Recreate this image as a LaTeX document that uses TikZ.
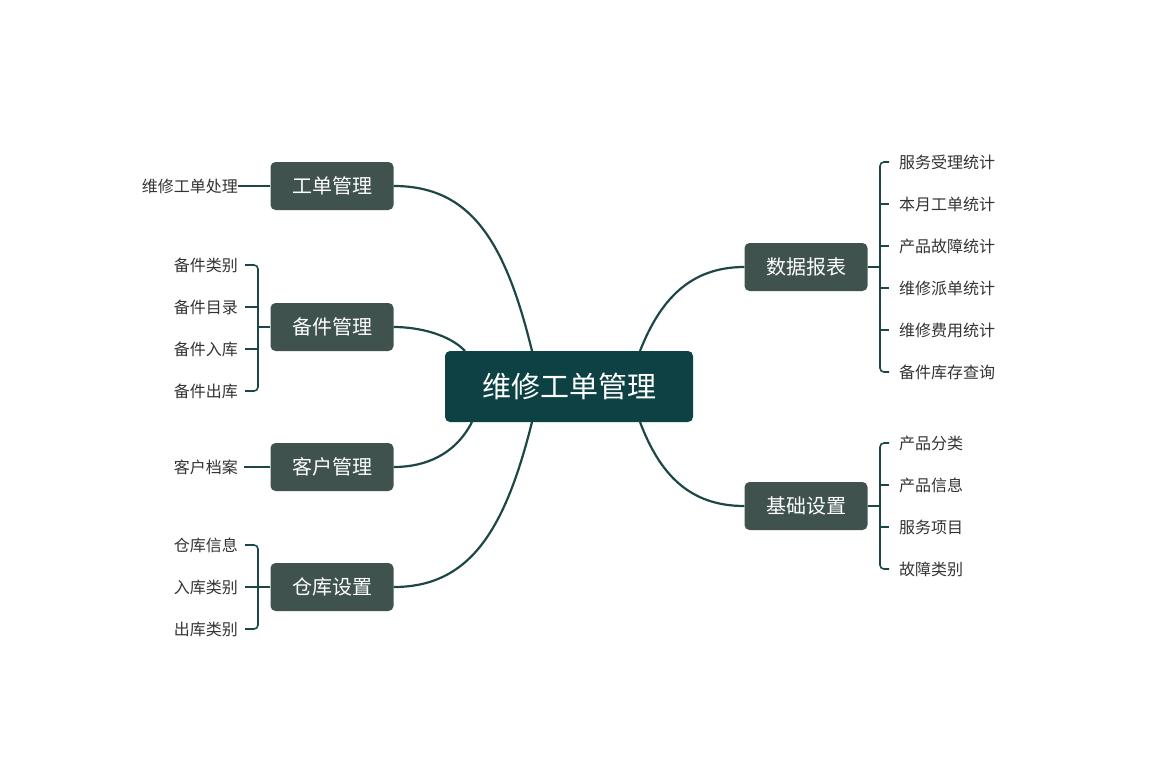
\documentclass[tikz,border=0pt]{standalone}
\usepackage{fontspec}
\newfontfamily\cjk{Noto Sans CJK SC}
\definecolor{central}{HTML}{0E4143}
\definecolor{branch}{HTML}{3F524E}
\definecolor{linec}{HTML}{1D4746}
\definecolor{leaftxt}{HTML}{333333}
\begin{document}
\begin{tikzpicture}[x=1pt,y=-1pt,
  cbox/.style={fill=central,rounded corners=5pt,minimum width=248pt,minimum height=71pt,text=white,font=\cjk\fontsize{29}{34}\selectfont,inner sep=0pt},
  bbox/.style={fill=branch,rounded corners=5pt,minimum width=123pt,minimum height=48pt,text=white,font=\cjk\fontsize{20}{24}\selectfont,inner sep=0pt},
  lleaf/.style={anchor=east,text=leaftxt,font=\cjk\fontsize{16}{20}\selectfont,inner sep=0pt},
  rleaf/.style={anchor=west,text=leaftxt,font=\cjk\fontsize{16}{20}\selectfont,inner sep=0pt},
  conn/.style={draw=linec,line width=2.2pt},
  brk/.style={draw=linec,line width=1.6pt,rounded corners=4pt}]
\useasboundingbox (0,0) rectangle (1162,761);
\node[cbox] (c) at (569,386.5) {维修工单管理};
\node[bbox] (b1) at (332,186) {工单管理};
\node[bbox] (b2) at (332,327) {备件管理};
\node[bbox] (b3) at (332,467) {客户管理};
\node[bbox] (b4) at (332,587) {仓库设置};
\node[bbox] (b5) at (806,267) {数据报表};
\node[bbox] (b6) at (806,506) {基础设置};
% connectors
\draw[conn] (532,351) .. controls (505,240) and (470,186) .. (b1.east);
\draw[conn] (465,351) .. controls (450,335) and (420,327) .. (b2.east);
\draw[conn] (472,422) .. controls (455,455) and (425,467) .. (b3.east);
\draw[conn] (532,422) .. controls (505,530) and (470,587) .. (b4.east);
\draw[conn] (640,351) .. controls (660,300) and (690,267) .. (b5.west);
\draw[conn] (640,422) .. controls (660,475) and (690,506) .. (b6.west);
% left leaves
\node[lleaf] (l1) at (238,186) {维修工单处理};
\draw[brk] (b1.west) -- (l1.east) ++(6,0);
\draw[conn,line width=1.6pt] (b1.west) -- (244,186);
\node[lleaf] (l2a) at (238,265) {备件类别};
\node[lleaf] (l2b) at (238,307) {备件目录};
\node[lleaf] (l2c) at (238,349) {备件入库};
\node[lleaf] (l2d) at (238,391) {备件出库};
\draw[brk] (b2.west) -- (258,327);
\draw[brk] (245,265) -- (258,265) -- (258,391) -- (245,391);
\draw[brk] (245,307) -- (258,307); \draw[brk] (245,349) -- (258,349);
\node[lleaf] (l3) at (238,467) {客户档案};
\draw[brk] (b3.west) -- (244,467);
\node[lleaf] (l4a) at (238,545) {仓库信息};
\node[lleaf] (l4b) at (238,587) {入库类别};
\node[lleaf] (l4c) at (238,629) {出库类别};
\draw[brk] (b4.west) -- (245,587);
\draw[brk] (245,545) -- (258,545) -- (258,629) -- (245,629);
% right leaves
\node[rleaf] (r1) at (899,162) {服务受理统计};
\node[rleaf] (r2) at (899,204) {本月工单统计};
\node[rleaf] (r3) at (899,246) {产品故障统计};
\node[rleaf] (r4) at (899,288) {维修派单统计};
\node[rleaf] (r5) at (899,330) {维修费用统计};
\node[rleaf] (r6) at (899,372) {备件库存查询};
\draw[brk] (b5.east) -- (880,267);
\draw[brk] (889,162) -- (880,162) -- (880,372) -- (889,372);
\foreach \y in {204,246,288,330} \draw[brk] (880,\y) -- (889,\y);
\node[rleaf] (s1) at (899,443) {产品分类};
\node[rleaf] (s2) at (899,485) {产品信息};
\node[rleaf] (s3) at (899,527) {服务项目};
\node[rleaf] (s4) at (899,569) {故障类别};
\draw[brk] (b6.east) -- (880,506);
\draw[brk] (889,443) -- (880,443) -- (880,569) -- (889,569);
\foreach \y in {485,527} \draw[brk] (880,\y) -- (889,\y);
\end{tikzpicture}
\end{document}
